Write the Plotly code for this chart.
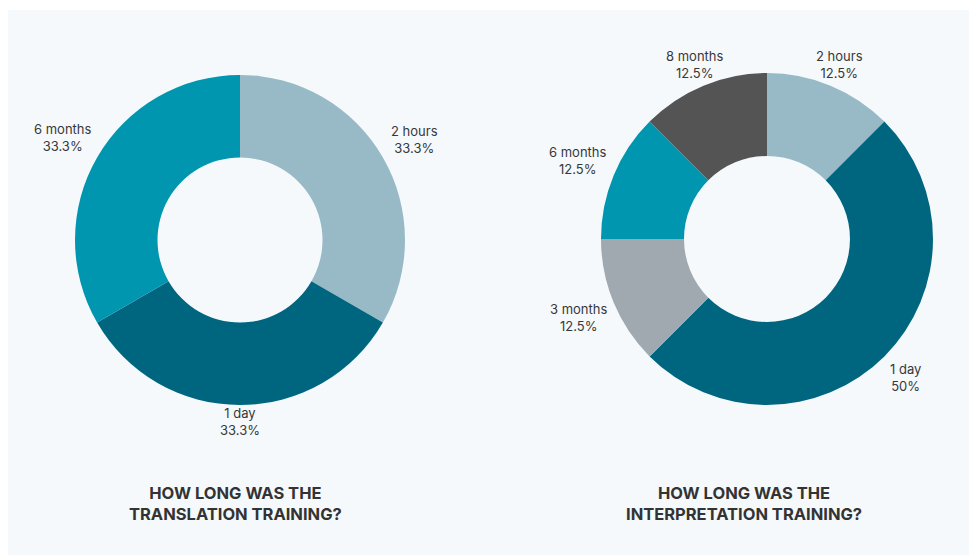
import math
import plotly.graph_objects as go

left_labels = ["2 hours", "1 day", "6 months"]
left_values = [1, 1, 1]
left_colors = ["#97bac6", "#006680", "#0096b0"]

right_labels = ["2 hours", "1 day", "3 months", "6 months", "8 months"]
right_values = [1, 4, 1, 1, 1]
right_colors = ["#97bac6", "#006680", "#a0a8b0", "#0096b0", "#545454"]

titles = ["HOW LONG WAS THE<br>TRANSLATION TRAINING?",
          "HOW LONG WAS THE<br>INTERPRETATION TRAINING?"]

W, H = 977, 555
FONT = "Inter"
BG = "#f5f9fc"

# layout constants (pixels within the figure)
PIES = [dict(cx=232, cy=232, r=165, tx=227), dict(cx=759, cy=231, r=166, tx=736)]
CHAR_W = 7.0      # approximate label character width (px)
HALF_H = 16.0     # approximate half height of a two-line label (px)


def dom(cx, cy, r):
    return dict(x=[(cx - r) / W, (cx + r) / W], y=[(H - cy - r) / H, (H - cy + r) / H])


def fmt_pct(v):
    s = f"{v * 100:.1f}"
    if s.endswith(".0"):
        s = s[:-2]
    return s + "%"


fig = go.Figure()
for p, labels, values, colors, title in [
        (PIES[0], left_labels, left_values, left_colors, titles[0]),
        (PIES[1], right_labels, right_values, right_colors, titles[1])]:
    fig.add_trace(go.Pie(
        labels=labels, values=values, hole=0.5, sort=False,
        direction="clockwise", rotation=0, textinfo="none",
        marker=dict(colors=colors, line=dict(width=0)),
        domain=dom(p["cx"], p["cy"], p["r"]), showlegend=False,
        hoverinfo="label+percent"))

    total = sum(values)
    cum = 0
    for lab, v in zip(labels, values):
        mid = (cum + v / 2) / total * 2 * math.pi
        cum += v
        s, c = math.sin(mid), math.cos(mid)
        pct = fmt_pct(v / total)
        half_w = max(len(lab), len(pct)) * CHAR_W / 2
        ext_v = HALF_H / abs(c) if abs(c) > 1e-6 else 1e9
        ext_h = half_w / abs(s) if abs(s) > 1e-6 else 1e9
        gap = 8 * abs(s) ** 0.3
        R = p["r"] + gap + min(ext_v, ext_h)
        px = p["cx"] + R * s
        py = p["cy"] - R * c
        fig.add_annotation(text=f"{lab}<br>{pct}",
                           x=px / W, y=(H - py) / H, xref="paper", yref="paper",
                           showarrow=False, xanchor="center", yanchor="middle", align="center",
                           font=dict(family=FONT, size=13, color="#383838"))

    fig.add_annotation(text="<b>" + title + "</b>", x=p["tx"] / W, y=(H - 495) / H,
                       xref="paper", yref="paper", showarrow=False,
                       font=dict(family=FONT, size=16.5, color="#333333", weight=800),
                       xanchor="center", yanchor="middle", align="center")

fig.add_shape(type="rect", xref="paper", yref="paper", x0=0, x1=1, y0=1 - 2 / H, y1=1,
              fillcolor="white", line=dict(width=0), layer="below")

fig.update_layout(width=W, height=H, margin=dict(l=0, r=0, t=0, b=0),
                  paper_bgcolor=BG, plot_bgcolor=BG)
fig.write_html("out.html")
